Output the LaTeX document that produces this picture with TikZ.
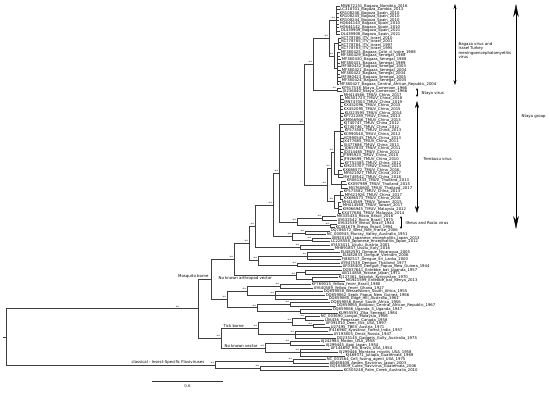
\documentclass[tikz,border=0pt]{standalone}
\usepackage{fontspec}
\setmainfont{DejaVu Sans}
\usetikzlibrary{arrows.meta}

\newcommand{\leaffont}{\fontsize{3.8}{4}\selectfont}
\newcommand{\notefont}{\fontsize{3.9}{4.5}\selectfont}
\newcommand{\starfont}{\fontsize{3.2}{3}\selectfont}

% tip: parent x, tip x, index, label
\newcommand{\tipleaf}[4]{%
  \coordinate (l#3) at (#2,{6+3.57*#3});
  \draw[branch] (#1,0 |- l#3) -- (l#3) node[tip] {#4};}

% clade: name, own x, first child, last child, parent x, support
\newcommand{\cladenode}[6]{%
  \draw[branch] (#2,0 |- #3) -- (#2,0 |- #4);
  \path (#2,0 |- #3) -- coordinate[midway] (#1) (#2,0 |- #4);
  \draw[branch] (#5,0 |- #1) -- (#1) node[support] {#6};}

\begin{document}
\catcode`\_=12
\begin{tikzpicture}[
  x=1pt, y=-1pt,
  branch/.style={draw=black!75, line width=0.4pt},
  tip/.style={anchor=west, inner sep=0.6pt, font=\leaffont},
  support/.style={anchor=south east, inner sep=0.3pt, xshift=-0.6pt, font=\starfont},
  group/.style={inner sep=0.4pt, font=\notefont},
  note/.style={anchor=west, align=left, inner sep=0.4pt, font=\notefont},
  span/.style={{Stealth[length=5pt,width=3pt]}-{Stealth[length=5pt,width=3pt]}, line width=0.4pt},
  smallspan/.style={{Stealth[length=2.6pt,width=2.2pt]}-{Stealth[length=2.6pt,width=2.2pt]}, line width=0.4pt},
  bigspan/.style={{Stealth[length=13pt,width=5.5pt]}-{Stealth[length=13pt,width=5.5pt]}, line width=0.4pt}
]
\path[fill=white] (0,0) rectangle (550,392);

% Bagaza and ITV
\tipleaf{336}{340}{0}{MW672151_Bagaza_Namibia_2016}
\tipleaf{336}{339.5}{1}{LC318701_Bagaza_Zambia_2013}
\tipleaf{336}{339}{2}{KR108246_Bagaza_Spain_2010}
\tipleaf{336}{339}{3}{KR108245_Bagaza_Spain_2010}
\tipleaf{336}{339}{4}{KR108244_Bagaza_Spain_2010}
\tipleaf{336}{339}{5}{HQ644143_Bagaza_Spain_2010}
\tipleaf{336}{339}{6}{HQ644142_Bagaza_Spain_2010}
\tipleaf{336}{340}{7}{OL439909_Bagaza_Spain_2021}
\tipleaf{336}{340}{8}{OL439908_Bagaza_Spain_2021}
\cladenode{bgA}{336}{l0}{l8}{329}{**}
\tipleaf{338}{340.5}{9}{KC778786_ITV_Israel_2010}
\tipleaf{338}{340.5}{10}{KC778785_ITV_Israel_2001}
\tipleaf{338}{340.5}{11}{KC778784_ITV_Israel_1997}
\tipleaf{338}{340.5}{12}{KC778783_ITV_Israel_1995}
\cladenode{itv}{338}{l9}{l12}{334}{}
\tipleaf{337}{340}{13}{MF380425_Bagaza_Cote_d_Ivoire_1988}
\tipleaf{337}{340}{14}{MF380429_Bagaza_Senegal_1988}
\tipleaf{337}{341}{15}{MF380430_Bagaza_Senegal_1988}
\tipleaf{337}{340}{16}{MF380431_Bagaza_Senegal_1989}
\tipleaf{337}{340.5}{17}{MF380432_Bagaza_Senegal_2003}
\tipleaf{337}{341}{18}{MF380421_Bagaza_Senegal_2004}
\tipleaf{337}{340}{19}{MF380422_Bagaza_Senegal_2004}
\tipleaf{337}{340.5}{20}{MF380423_Bagaza_Senegal_2005}
\tipleaf{337}{341}{21}{MF380424_Bagaza_Senegal_2005}
\tipleaf{337}{339}{22}{MF380427_Bagaza_Central_African_Republic_2004}
\cladenode{sen}{337}{l13}{l22}{334}{}
\cladenode{bgB}{334}{itv}{sen}{329}{**}
\cladenode{bag}{329}{bgA}{bgB}{313}{**}

% Ntaya
\tipleaf{337}{341}{23}{KF917538_Ntaya_Cameroon_1966}
\tipleaf{337}{342}{24}{JX236040_Ntaya_Cameroon_1966}
\cladenode{nty}{337}{l23}{l24}{313}{**}
\cladenode{nodeB}{313}{bag}{nty}{304}{**}

% Tembusu
\tipleaf{340}{343}{25}{MH414566_TMUV_China_2017}
\tipleaf{340}{344}{26}{MK501723_TMUV_China_2018}
\tipleaf{340}{343.5}{27}{MN747003_TMUV_China_2019}
\tipleaf{340}{343}{28}{KX452096_TMUV_China_2015}
\tipleaf{340}{343}{29}{KX452095_TMUV_China_2015}
\tipleaf{340}{344}{30}{KU323595_TMUV_China_2014}
\tipleaf{340}{343}{31}{KP722289_TMUV_China_2013}
\tipleaf{340}{342.5}{32}{KM066946_TMUV_China_2013}
\tipleaf{340}{343}{33}{KJ740747_TMUV_China_2012}
\tipleaf{340}{343}{34}{KJ740746_TMUV_China_2012}
\tipleaf{340}{344}{35}{KF573581_TMUV_China_2013}
\tipleaf{340}{343}{36}{KC990540_TMUV_China_2012}
\tipleaf{340}{343.5}{37}{KC990545_TMUV_China_2013}
\tipleaf{340}{342.5}{38}{JX477685_TMUV_China_2011}
\tipleaf{340}{343}{39}{JX477686_TMUV_China_2011}
\tipleaf{340}{344}{40}{JQ657833_TMUV_China_2011}
\tipleaf{340}{343}{41}{JQ314465_TMUV_China_2011}
\tipleaf{340}{342.5}{42}{JF895923_TMUV_China_2010}
\tipleaf{340}{343}{43}{JF926699_TMUV_China_2010}
\tipleaf{340}{344}{44}{KF752385_TMUV_China_2012}
\tipleaf{340}{343}{45}{KM233707_TMUV_China_2013}
\cladenode{tmA}{340}{l25}{l45}{334}{}
\tipleaf{338}{342}{46}{KX686572_TMUV_China_2016}
\tipleaf{338}{343}{47}{MF621927_TMUV_China_2017}
\tipleaf{338}{342.5}{48}{MH748542_TMUV_China_2018}
\cladenode{tmB}{338}{l46}{l48}{334}{}
\cladenode{tmC}{334}{tmA}{tmB}{331}{**}
\tipleaf{341}{346}{49}{KR061333_TMUV_Thailand_2013}
\tipleaf{341}{347}{50}{KX097989_TMUV_Thailand_2015}
\tipleaf{341}{348}{51}{MG760600_TMUV_Thailand_2017}
\cladenode{tmD}{341}{l49}{l51}{331}{}
\cladenode{tmE}{331}{tmC}{tmD}{327}{**}
\tipleaf{340}{343}{52}{KF573582_TMUV_China_2013}
\tipleaf{340}{344}{53}{MF621926_TMUV_China_2017}
\tipleaf{340}{343}{54}{KX686573_TMUV_China_2016}
\cladenode{tmF}{340}{l52}{l54}{334}{}
\tipleaf{338}{341}{55}{MH414569_TMUV_Taiwan_2015}
\tipleaf{338}{342}{56}{MH414568_TMUV_Taiwan_2017}
\tipleaf{338}{342}{57}{KM066945_TMUV_Malaysia_2012}
\tipleaf{338}{341}{58}{KX477684_TMUV_Malaysia_2014}
\cladenode{tmG}{338}{l55}{l58}{334}{}
\cladenode{tmH}{334}{tmF}{tmG}{327}{**}
\cladenode{tmv}{327}{tmE}{tmH}{304}{**}
\cladenode{nodeA}{304}{nodeB}{tmv}{279}{**}

% Ilheus and Rocio
\tipleaf{322}{336}{59}{MK335434_Rocio_Brazil_2016}
\tipleaf{322}{337}{60}{AY632542_Rocio_Brazil_1975}
\cladenode{roc}{322}{l59}{l60}{297}{**}
\tipleaf{330}{337}{61}{AY632539_Ilheus_Brazil_1944}
\tipleaf{330}{335}{62}{KC481679_Ilheus_Brazil_1994}
\cladenode{ilh}{330}{l61}{l62}{297}{**}
\cladenode{ilr}{297}{roc}{ilh}{279}{**}
\cladenode{nodeC}{279}{nodeA}{ilr}{273}{**}

% Japanese encephalitis group
\tipleaf{305}{330}{63}{DQ786572_West_Nile_France_2006}
\tipleaf{305}{326}{64}{NC_000943_Murray_Valley_Australia_1951}
\cladenode{jevA}{305}{l63}{l64}{292}{**}
\tipleaf{312}{331}{65}{AB920183_Japanese_encephalitis_Japan_2013}
\tipleaf{312}{330}{66}{LC228558_Japanese_encephalitis_Japan_2012}
\cladenode{jevB}{312}{l65}{l66}{292}{**}
\cladenode{jev}{292}{jevA}{jevB}{273}{**}
\cladenode{nodeD}{273}{nodeC}{jev}{255}{**}
\tipleaf{300}{330}{67}{AY453411_Usutu_Austria_2001}
\tipleaf{300}{334}{68}{MH891847_Usutu_Italy_2016}
\cladenode{usu}{300}{l67}{l68}{255}{**}
\cladenode{nodeE}{255}{nodeD}{usu}{249}{**}

% Dengue
\tipleaf{307}{340}{69}{EU482591_Dengue_Nicaragua_2005}
\tipleaf{307}{342}{70}{EU482833_Dengue_Vietnam_2006}
\tipleaf{307}{341}{71}{FJ882517_Dengue_Sri_Lanka_2000}
\cladenode{denA}{307}{l69}{l71}{258}{**}
\tipleaf{297}{340}{72}{AY947539_Dengue_Thailand_1977}
\tipleaf{297}{342}{73}{AF038403_Dengue_Papua_New_Guinea_1944}
\cladenode{denB}{297}{l72}{l73}{258}{**}
\cladenode{den}{258}{denA}{denB}{249}{**}
\cladenode{nodeF}{249}{nodeE}{den}{234}{**}

% no known arthropod vector
\tipleaf{305}{342}{74}{DQ837641_Entebbe_bat_Uganda_1957}
\tipleaf{305}{341}{75}{AB114858_Yokose_Japan_1971}
\cladenode{nkaA}{305}{l74}{l75}{296}{}
\tipleaf{312}{338}{76}{KJ127361_Sokoluk_Kyrgyzstan_1970}
\tipleaf{312}{345}{77}{MG921599_Entebbe_bat_Kenya_2013}
\cladenode{nkaB}{312}{l76}{l77}{296}{}
\cladenode{nka}{296}{nkaA}{nkaB}{234}{**}
\cladenode{nodeG}{234}{nodeF}{nka}{211}{**}

% Yellow fever group
\tipleaf{280}{311}{78}{KF769015_Yellow_fever_Brazil_1980}
\tipleaf{280}{313}{79}{AY640589_Yellow_fever_Ghana_1927}
\cladenode{yfA}{280}{l78}{l79}{247}{**}
\tipleaf{275}{323}{80}{DQ859058_Wesselsbron_South_Africa_1955}
\tipleaf{275}{325}{81}{DQ859062_Sepik_Papua_New_Guinea_1966}
\tipleaf{275}{328}{82}{DQ859060_Edge_Hill_Australia_1961}
\cladenode{yfB}{275}{l80}{l82}{247}{**}
\cladenode{yfC}{247}{yfA}{yfB}{227}{**}
\tipleaf{290}{330}{83}{DQ859056_Banzi_South_Africa_1956}
\tipleaf{290}{336}{84}{DQ859065_Bouboui_Central_African_Republic_1967}
\cladenode{yfD}{290}{l83}{l84}{257}{**}
\tipleaf{300}{332}{85}{DQ859066_Uganda_S_Uganda_1947}
\tipleaf{300}{338}{86}{KU955591_Zika_Senegal_1984}
\cladenode{yfE}{300}{l85}{l86}{257}{}
\cladenode{yfF}{257}{yfD}{yfE}{227}{**}
\cladenode{yfg}{227}{yfC}{yfF}{211}{**}
\cladenode{mos}{211}{nodeG}{yfg}{198}{}

% tick borne
\tipleaf{305}{320}{87}{NC_003690_Langat_Malaysia_1956}
\tipleaf{305}{324}{88}{L06436_Powassan_Canada_1958}
\cladenode{tkA}{305}{l87}{l88}{292}{**}
\tipleaf{313}{325}{89}{AF091010_Deer_tick_USA_1997}
\tipleaf{313}{330}{90}{U27495_TBEV_Austria_1971}
\cladenode{tkB}{313}{l89}{l90}{292}{**}
\cladenode{tkC}{292}{tkA}{tkB}{258}{**}
\tipleaf{295}{328}{91}{JF416960_Kyasanur_Forest_India_1957}
\tipleaf{295}{333}{92}{AY193805_Omsk_Russia_1947}
\tipleaf{295}{336}{93}{DQ235145_Gadgets_Gully_Australia_1975}
\cladenode{tkD}{295}{l91}{l93}{258}{**}
\cladenode{tick}{258}{tkC}{tkD}{221}{**}

% no known vector
\tipleaf{290}{320}{94}{AJ242984_Modoc_USA_1958}
\tipleaf{290}{325}{95}{AJ299445_Apoi_Japan_1954}
\cladenode{nkA}{290}{l94}{l95}{265}{**}
\tipleaf{300}{330}{96}{AF144692_Rio_Bravo_USA_1954}
\tipleaf{300}{338}{97}{AJ299446_Montana_myotis_USA_1958}
\tipleaf{300}{345}{98}{KJ469371_Jutiapa_Guatemala_1969}
\cladenode{nkB}{300}{l96}{l98}{265}{**}
\cladenode{nkv}{265}{nkA}{nkB}{221}{**}
\cladenode{tnv}{221}{tick}{nkv}{198}{**}
\cladenode{nodeM}{198}{mos}{tnv}{6}{}

% insect-specific
\tipleaf{293}{326}{99}{NC_001564_Cell_fusing_agent_USA_1975}
\tipleaf{293}{329}{100}{AB488408_Aedes_flavivirus_Japan_2003}
\cladenode{isA}{293}{l99}{l100}{215}{**}
\tipleaf{260}{329}{101}{GQ165809_Culex_flavivirus_Guatemala_2006}
\tipleaf{260}{343}{102}{KC505248_Palm_Creek_Australia_2010}
\cladenode{isB}{260}{l101}{l102}{215}{**}
\cladenode{isf}{215}{isA}{isB}{6}{**}

% root
\draw[branch] (6,0 |- nodeM) -- (6,0 |- isf);
\path (6,0 |- nodeM) -- coordinate[midway] (root) (6,0 |- isf);
\draw[branch] (root) -- ++(-3,0);
\node[support, anchor=south] (rootSup) at ([xshift=-20pt]nodeM) {**};

% group labels on branches
\node[group, anchor=south east] (mosLab) at ([xshift=-2pt]mos) {Mosquito borne};
\node[group, anchor=north west] (nkaLab) at ([xshift=7pt]mos |- nka) {No known arthropod vector};
\node[group, anchor=south west] (tickLab) at ([xshift=2pt]tnv |- tick) {Tick borne};
\node[group, anchor=south west] (nkvLab) at ([xshift=3pt]tnv |- nkv) {No known vector};
\node[group, anchor=south east] (isfLab) at ([xshift=-10pt]isf) {classical - Insect-Specific Flaviviruses};

% clade brackets
\coordinate (bagTop) at (455,4);
\coordinate (bagBot) at (455,85);
\draw[span] (bagTop) -- (bagBot);
\node[note] (bagLab) at (458,50.5) {Bagaza virus and\\Israel Turkey\\meningoencephalomyelitis\\virus};

\coordinate (ntyTop) at (417,88);
\coordinate (ntyBot) at (417,97);
\draw[smallspan] (ntyTop) -- (ntyBot);
\node[note] (ntyLab) at (421,93) {Ntaya virus};

\coordinate (tmvTop) at (417,101);
\coordinate (tmvBot) at (417,213);
\draw[span, {Stealth[length=7pt,width=4pt]}-{Stealth[length=7pt,width=4pt]}] (tmvTop) -- (tmvBot);
\node[note] (tmvLab) at (423,159) {Tembusu virus};

\coordinate (ilrTop) at (401,216);
\coordinate (ilrBot) at (401,229);
\draw[smallspan] (ilrTop) -- (ilrBot);
\node[note] (ilrLab) at (405,223) {Ilheus and Rocio virus};

\coordinate (grpTop) at (516,4);
\coordinate (grpBot) at (516,229);
\draw[bigspan] (grpTop) -- (grpBot);
\node[note] (grpLab) at (521,116) {Ntaya group};

% scale bar
\coordinate (sbL) at (152,381);
\coordinate (sbR) at (223,381);
\draw[line width=0.6pt, black!80] (sbL) -- node[group, anchor=north, yshift=-3pt] (sbLab) {0.6} (sbR);

\end{tikzpicture}
\end{document}
